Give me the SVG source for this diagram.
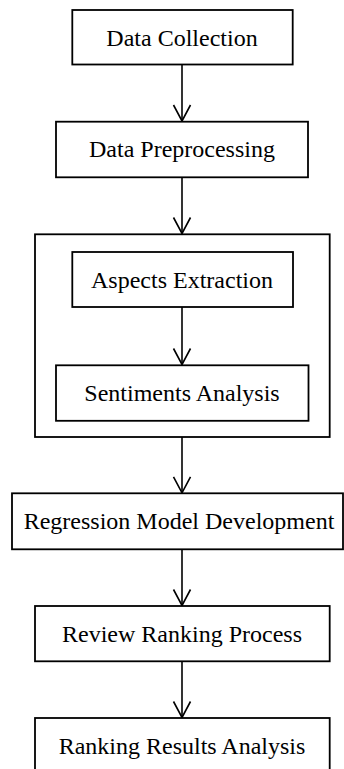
<svg xmlns="http://www.w3.org/2000/svg" width="344" height="769" viewBox="0 0 344 769">
<style>
.box{fill:#fff;stroke:#000;stroke-width:1.8}
.lbl{font-family:"Liberation Serif","Times New Roman",serif;font-size:24px;fill:#000;text-anchor:middle}
.conn{stroke:#000;stroke-width:1.6;fill:none;marker-end:url(#arr)}
</style>
<defs>
<marker id="arr" markerUnits="userSpaceOnUse" markerWidth="40" markerHeight="40" refX="0" refY="0" orient="auto" overflow="visible" viewBox="-20 -20 40 40">
<path d="M-16,-8.5 L0,0 L-16,8.5" fill="none" stroke="#000" stroke-width="1.6"/>
</marker>
</defs>
<rect width="344" height="769" fill="#fff"/>
<g id="group-aspects-sentiments">
<rect class="box" x="35" y="234.3" width="294.7" height="202.7"/>
</g>
<g id="connectors">
<line class="conn" x1="182" y1="64.5" x2="182" y2="121"/>
<line class="conn" x1="182" y1="177.3" x2="182" y2="233.5"/>
<line class="conn" x1="182" y1="307" x2="182" y2="364.5"/>
<line class="conn" x1="182" y1="437" x2="182" y2="492.8"/>
<line class="conn" x1="182" y1="549.3" x2="182" y2="605.5"/>
<line class="conn" x1="182" y1="661.3" x2="182" y2="717.5"/>
</g>
<g id="data-collection">
<rect class="box" x="72.3" y="10" width="220.4" height="54.5"/>
<text class="lbl" x="182" y="45.5">Data Collection</text>
</g>
<g id="data-preprocessing">
<rect class="box" x="56" y="121.7" width="252" height="55.6"/>
<text class="lbl" x="182" y="157">Data Preprocessing</text>
</g>
<g id="aspects-extraction">
<rect class="box" x="72.3" y="252" width="220.7" height="55"/>
<text class="lbl" x="182" y="287.5">Aspects Extraction</text>
</g>
<g id="sentiments-analysis">
<rect class="box" x="56" y="365.3" width="252.5" height="55.5"/>
<text class="lbl" x="182" y="401">Sentiments Analysis</text>
</g>
<g id="regression-model-development">
<rect class="box" x="12" y="493.3" width="331" height="56"/>
<text class="lbl" x="179" y="529">Regression Model Development</text>
</g>
<g id="review-ranking-process">
<rect class="box" x="35" y="606" width="294.7" height="55.3"/>
<text class="lbl" x="182" y="641.5">Review Ranking Process</text>
</g>
<g id="ranking-results-analysis">
<rect class="box" x="35" y="718" width="294.7" height="70"/>
<text class="lbl" x="182" y="753.5">Ranking Results Analysis</text>
</g>
</svg>
